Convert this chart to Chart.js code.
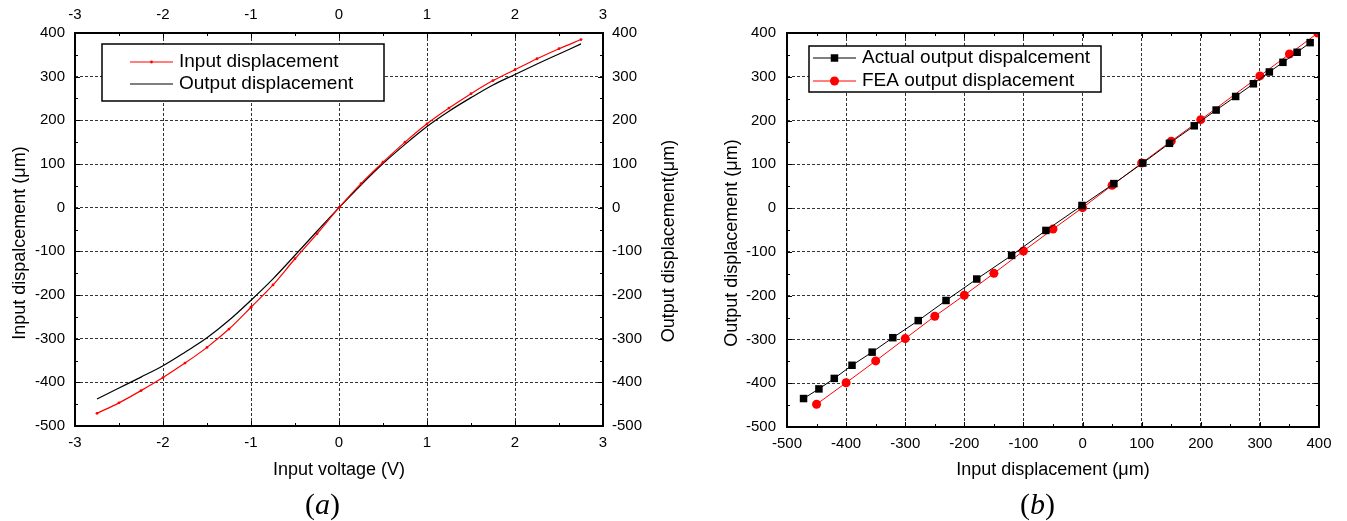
<!DOCTYPE html>
<html>
<head>
<meta charset="utf-8">
<script src="https://cdn.jsdelivr.net/npm/chart.js@4.4.1/dist/chart.umd.min.js"></script>
<style>
  body { margin: 0; background: #fff; }
  #wrap { position: relative; width: 1347px; height: 521px; background: #fff; }
  canvas { position: absolute; top: 0; }
  .cap { position: absolute; font-family: "Liberation Serif", "Times New Roman", serif; font-size: 30px; line-height: 30px; color: #000; }
</style>
</head>
<body>
<div id="wrap">
  <canvas id="chartA" width="680" height="521" style="left:0"></canvas>
  <canvas id="chartB" width="667" height="521" style="left:680px"></canvas>
  <div class="cap" style="left:305px;top:489px">(<i>a</i>)</div>
  <div class="cap" style="left:1020px;top:489px">(<i>b</i>)</div>
</div>
<script>
// (a) input voltage vs displacement
const voltage = [-2.75, -2.5, -2.25, -2, -1.75, -1.5, -1.25, -1, -0.75, -0.5, -0.25, 0,
                 0.25, 0.5, 0.75, 1, 1.25, 1.5, 1.75, 2, 2.25, 2.5, 2.75];
const inputDisp = [-471, -447, -419, -389, -356, -320, -278, -228, -177, -117, -60, 0,
                   55, 104, 150, 192, 228, 261, 291, 316, 341, 364, 385];
const outputDisp = [-438, -413, -388, -362, -331, -298, -258, -212, -163, -109, -54, 0,
                    52, 101, 145, 186, 221, 252, 281, 305, 329, 352, 375];

// (b) input displacement vs output displacement
const actualX = [-472, -446, -420, -390, -356, -321, -278, -231, -179, -120, -62, -1,
                 53, 102, 147, 189, 226, 259, 289, 316, 339, 363, 385];
const actualY = [-435, -413, -389, -359, -329, -296, -257, -211, -162, -108, -51, 6,
                 56, 103, 148, 188, 224, 255, 284, 311, 333, 356, 378];
const feaX = [-450, -400, -350, -300, -250, -200, -150, -100, -50, 0, 50, 100, 150, 200, 300, 350, 398];
const feaY = [-448, -399, -349, -298, -247, -199, -149, -98, -48, 1, 52, 103, 153, 202, 302, 352, 400];

const FONT = '"Liberation Sans", Arial, sans-serif';
const tickFont = { family: FONT, size: 15 };
const titleFont = { family: FONT, size: 18 };

// frame, inward ticks, boxed legend and rotated y titles
const framePlugin = {
  id: "frame",
  afterDraw(chart, args, opts) {
    const ctx = chart.ctx;
    const a = chart.chartArea;
    const xs = chart.scales.x;
    const ys = chart.scales.y;
    ctx.save();
    ctx.strokeStyle = "#000";
    ctx.lineWidth = 1;
    ctx.beginPath();
    for (let k = 0; ; k++) {
      const v = xs.min + k * opts.xMinor;
      if (v > xs.max + 1e-9) break;
      const px = Math.round(xs.getPixelForValue(v)) + 0.5;
      const len = k % 2 === 0 ? 5 : 3;
      ctx.moveTo(px, a.bottom); ctx.lineTo(px, a.bottom - len);
      ctx.moveTo(px, a.top); ctx.lineTo(px, a.top + len);
    }
    for (let k = 0; ; k++) {
      const v = ys.min + k * opts.yMinor;
      if (v > ys.max + 1e-9) break;
      const py = Math.round(ys.getPixelForValue(v)) + 0.5;
      const len = k % 2 === 0 ? 5 : 3;
      ctx.moveTo(a.left, py); ctx.lineTo(a.left + len, py);
      ctx.moveTo(a.right, py); ctx.lineTo(a.right - len, py);
    }
    ctx.stroke();
    ctx.lineWidth = 2;
    ctx.strokeRect(a.left, a.top, a.right - a.left, a.bottom - a.top);

    // legend box
    const lg = opts.legend;
    ctx.fillStyle = "#fff";
    ctx.fillRect(lg.x, lg.y, lg.w, lg.h);
    ctx.lineWidth = 1.5;
    ctx.strokeStyle = "#000";
    ctx.strokeRect(lg.x, lg.y, lg.w, lg.h);
    ctx.font = "19px " + FONT;
    ctx.textBaseline = "middle";
    ctx.textAlign = "left";
    chart.data.datasets.forEach((ds, i) => {
      const ry = lg.rows[i];
      ctx.strokeStyle = ds.borderColor;
      ctx.lineWidth = ds.borderWidth;
      ctx.beginPath();
      ctx.moveTo(lg.x0, ry); ctx.lineTo(lg.x1, ry);
      ctx.stroke();
      if (ds.pointRadius > 0) {
        ctx.fillStyle = ds.backgroundColor;
        Chart.helpers.drawPoint(ctx, { pointStyle: ds.pointStyle, radius: ds.pointRadius, borderWidth: 0, rotation: 0 }, (lg.x0 + lg.x1) / 2, ry);
      }
      ctx.fillStyle = "#000";
      ctx.fillText(ds.label, lg.tx, ry);
    });

    // y axis titles, reading bottom to top
    ctx.font = "18px " + FONT;
    ctx.textAlign = "center";
    ctx.fillStyle = "#000";
    opts.titles.forEach(t => {
      ctx.save();
      ctx.translate(t.x, t.y);
      ctx.rotate(-Math.PI / 2);
      ctx.fillText(t.text, 0, 0);
      ctx.restore();
    });
    ctx.restore();
  }
};

const grid = { color: "#333", drawTicks: false, lineWidth: 1 };
const border = { display: false, dash: [3, 2] };

new Chart(document.getElementById("chartA"), {
  type: "line",
  data: {
    datasets: [
      {
        label: "Input displacement",
        data: voltage.map((v, i) => ({ x: v, y: inputDisp[i] })),
        borderColor: "#ff0000",
        backgroundColor: "#ff0000",
        borderWidth: 1.2,
        pointRadius: 1.4,
        pointBorderWidth: 0,
        pointStyle: "circle",
        cubicInterpolationMode: "monotone",
        yAxisID: "y"
      },
      {
        label: "Output displacement",
        data: voltage.map((v, i) => ({ x: v, y: outputDisp[i] })),
        borderColor: "#000",
        backgroundColor: "#000",
        borderWidth: 1.2,
        pointRadius: 0,
        cubicInterpolationMode: "monotone",
        yAxisID: "y2"
      }
    ]
  },
  options: {
    responsive: false,
    animation: false,
    layout: { padding: 0 },
    plugins: {
      legend: { display: false },
      tooltip: { enabled: false },
      frame: {
        xMinor: 0.5,
        yMinor: 50,
        legend: { x: 102, y: 44, w: 282, h: 57, rows: [62, 84], x0: 130, x1: 173, tx: 179 },
        titles: [
          { text: "Input dispalcement (\u03bcm)", x: 20, y: 243 },
          { text: "Output displacement(\u03bcm)", x: 669, y: 241 }
        ]
      }
    },
    scales: {
      x: {
        type: "linear", position: "bottom", min: -3, max: 3,
        ticks: { stepSize: 1, padding: 8, font: tickFont, color: "#000" },
        grid: grid, border: border,
        title: { display: true, text: "Input voltage (V)", font: titleFont, color: "#000", padding: { top: 0, bottom: 40 } },
        afterFit: s => { s.height = 95; }
      },
      x2: {
        type: "linear", position: "top", min: -3, max: 3,
        ticks: { stepSize: 1, padding: 9, font: tickFont, color: "#000" },
        grid: { display: false, drawTicks: false }, border: { display: false },
        afterFit: s => { s.height = 33; }
      },
      y: {
        type: "linear", position: "left", min: -500, max: 400,
        ticks: { stepSize: 100, padding: 10, font: tickFont, color: "#000" },
        grid: grid, border: border,
        afterFit: s => { s.width = 75; }
      },
      y2: {
        type: "linear", position: "right", min: -500, max: 400,
        ticks: { stepSize: 100, padding: 9, font: tickFont, color: "#000" },
        grid: { display: false, drawTicks: false }, border: { display: false },
        afterFit: s => { s.width = 77; }
      }
    }
  },
  plugins: [framePlugin]
});

new Chart(document.getElementById("chartB"), {
  type: "line",
  data: {
    datasets: [
      {
        label: "Actual output dispalcement",
        data: actualX.map((v, i) => ({ x: v, y: actualY[i] })),
        borderColor: "#000",
        backgroundColor: "#000",
        borderWidth: 1,
        pointStyle: "rect",
        pointRadius: 5.3,
        pointBorderWidth: 0,
        clip: 0
      },
      {
        label: "FEA output displacement",
        data: feaX.map((v, i) => ({ x: v, y: feaY[i] })),
        borderColor: "#ff0000",
        backgroundColor: "#ff0000",
        borderWidth: 1,
        pointStyle: "circle",
        pointRadius: 4.5,
        pointBorderWidth: 0,
        clip: 0
      }
    ]
  },
  options: {
    responsive: false,
    animation: false,
    layout: { padding: { top: 33, right: 28, left: 0, bottom: 0 } },
    plugins: {
      legend: { display: false },
      tooltip: { enabled: false },
      frame: {
        xMinor: 50,
        yMinor: 50,
        legend: { x: 129, y: 46, w: 292, h: 46, rows: [58, 81], x0: 133, x1: 176, tx: 182 },
        titles: [
          { text: "Output displacement (\u03bcm)", x: 52, y: 243 }
        ]
      }
    },
    scales: {
      x: {
        type: "linear", position: "bottom", min: -500, max: 400,
        ticks: { stepSize: 100, padding: 8, font: tickFont, color: "#000" },
        grid: grid, border: border,
        title: { display: true, text: "Input displacement (\u03bcm)", font: titleFont, color: "#000", padding: { top: 0, bottom: 40 } },
        afterFit: s => { s.height = 94; }
      },
      y: {
        type: "linear", position: "left", min: -500, max: 400,
        ticks: { stepSize: 100, padding: 11, font: tickFont, color: "#000" },
        grid: grid, border: border,
        afterFit: s => { s.width = 107; }
      }
    }
  },
  plugins: [framePlugin]
});
</script>
</body>
</html>
